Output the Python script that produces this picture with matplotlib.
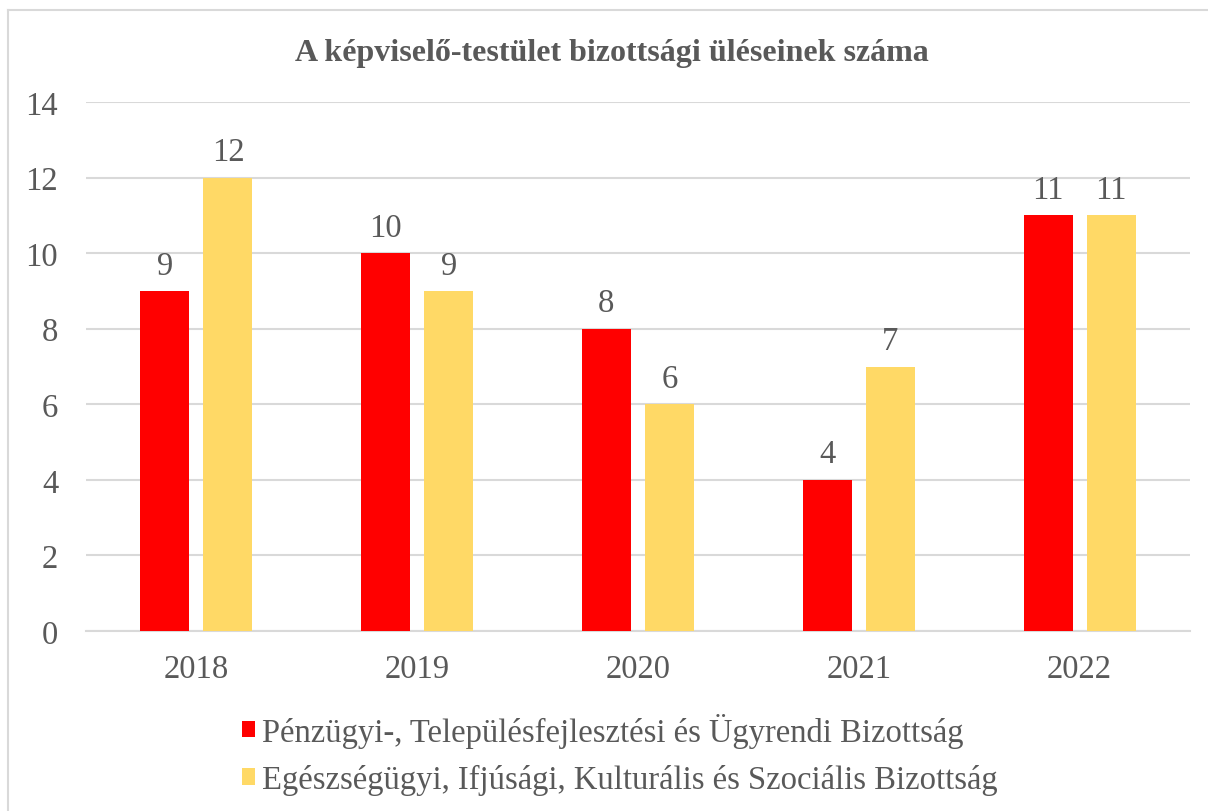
import matplotlib
matplotlib.use("Agg")
import matplotlib.pyplot as plt
from matplotlib.patches import Patch
from matplotlib.lines import Line2D
import numpy as np

years = ["2018", "2019", "2020", "2021", "2022"]
penzugyi = [9, 10, 8, 4, 11]
egeszsegugyi = [12, 9, 6, 7, 11]
series_names = ["Pénzügyi-, Településfejlesztési és Ügyrendi Bizottság",
                "Egészségügyi, Ifjúsági, Kulturális és Szociális Bizottság"]
yticks = [0, 2, 4, 6, 8, 10, 12, 14]
title = "A képviselő-testület bizottsági üléseinek száma"

RED = "#FF0000"
YEL = "#FFD966"
TXT = "#595959"
GRID = "#D9D9D9"

plt.rcParams['font.family'] = ['Liberation Serif', 'DejaVu Serif']

W, H = 1208, 812
fig = plt.figure(figsize=(W / 100, H / 100), dpi=100)
ax = fig.add_axes([86 / W, 180 / H, (1190 - 86) / W, (632 - 103) / H])

x = np.arange(len(years))
bw = 0.222
off = 0.143
b1 = ax.bar(x - off, penzugyi, bw, color=RED, zorder=3)
b2 = ax.bar(x + off, egeszsegugyi, bw, color=YEL, zorder=3)

for bars, vals in ((b1, penzugyi), (b2, egeszsegugyi)):
    for r, v in zip(bars, vals):
        ax.annotate(str(v), (r.get_x() + r.get_width() / 2, v), xytext=(0, 7.5),
                    textcoords="offset points", ha="center", va="bottom",
                    fontsize=23.5, color=TXT)

ax.set_xlim(-0.5, len(years) - 0.5)
ax.set_ylim(0, 14)
ax.set_yticks(yticks)
ax.set_yticklabels([str(t) for t in yticks])
ax.set_xticks(x)
ax.set_xticklabels(years)
ax.tick_params(axis="both", length=0, labelsize=23.5, labelcolor=TXT)
ax.tick_params(axis="y", pad=20)
ax.tick_params(axis="x", pad=16)
ax.yaxis.grid(True, color=GRID, linewidth=1.5, zorder=0)
for s in ["top", "right", "left"]:
    ax.spines[s].set_visible(False)
ax.spines["bottom"].set_color(GRID)
ax.spines["bottom"].set_linewidth(1.5)

fig.text(0.5 + 8 / W, 1 - 53 / H, title, ha="center", va="center",
         fontsize=23, fontweight="bold", color=TXT)

handles = [Patch(facecolor=RED), Patch(facecolor=YEL)]
leg = fig.legend(handles, series_names, loc="center left",
                 bbox_to_anchor=(242 / W, 57 / H), frameon=False,
                 fontsize=23.5, handlelength=0.4, handleheight=0.4,
                 handletextpad=0.2, labelspacing=0.5, borderpad=0,
                 borderaxespad=0)
for t in leg.get_texts():
    t.set_color(TXT)

fig.add_artist(Line2D([8 / W, 1], [1 - 11 / H, 1 - 11 / H], color=GRID, linewidth=1.5))
fig.add_artist(Line2D([8 / W, 8 / W], [0, 1 - 11 / H], color=GRID, linewidth=1.5))

fig.savefig("out.png", dpi=100)
